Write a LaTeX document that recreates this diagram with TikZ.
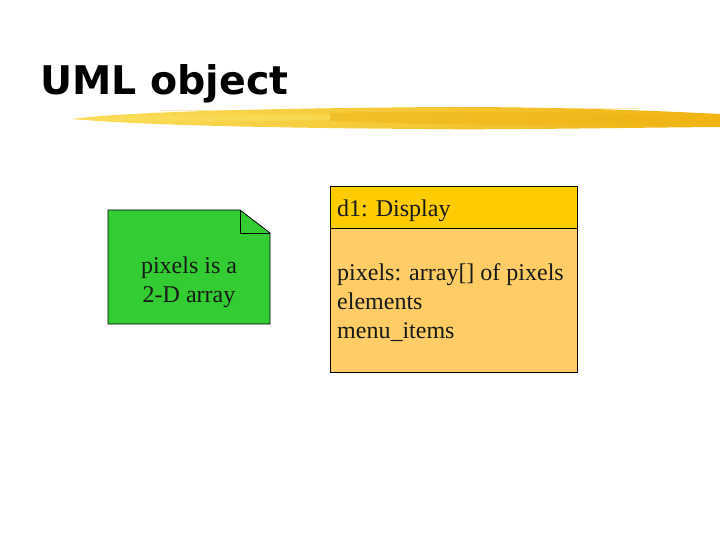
\documentclass[tikz,border=0pt]{standalone}
\usepackage{fontspec}
\setmainfont{Liberation Serif}
\newfontfamily\titlefont{DejaVu Sans}
\usetikzlibrary{positioning}
\definecolor{notegreen}{RGB}{51, 204, 51}
\definecolor{headgold}{RGB}{255, 204, 0}
\definecolor{bodyorange}{RGB}{255, 204, 102}
\definecolor{brushlight}{RGB}{250, 222, 90}
\definecolor{brushdark}{RGB}{240, 180, 20}

\begin{document}
\begin{tikzpicture}[x=1pt, y=-1pt,
    plain/.style={font=\fontsize{24}{29}\selectfont, inner sep=0pt, text=black!90},
    box/.style={draw=black, line width=0.8pt}]
\useasboundingbox (0,0) rectangle (720,540);

% Title
\node[anchor=base west, inner sep=0pt, font=\titlefont\bfseries\fontsize{39.5}{48}\selectfont] (title) at (40,95) {UML object};

% Brush stroke under the title
\shade[left color=brushlight, right color=brushdark]
    (72,119) .. controls (130,111) and (300,108) .. (450,107)
    .. controls (580,107) and (680,112) .. (720,114)
    -- (720,127) .. controls (600,128) and (500,130) .. (420,129)
    .. controls (300,128) and (150,126) .. cycle;
\fill[brushdark, opacity=0.5] (330,113) .. controls (450,110) and (600,112) .. (715,117)
    -- (715,124) .. controls (600,126) and (450,126) .. (330,121) -- cycle;
\fill[brushlight, opacity=0.6] (90,119) .. controls (180,115) and (260,114) .. (330,115)
    -- (330,120) .. controls (250,121) and (170,121) .. cycle;
% streaks
\foreach \y/\a/\b in {111/160/260, 112/300/420, 124/200/330, 126/460/600, 109/520/640}
    \draw[brushdark!80, opacity=0.35, line width=1pt] (\a,\y) -- (\b,\y);

% Note
\draw[box, fill=notegreen] (108,210) -- (240,210) -- (270,233) -- (270,324) -- (108,324) -- cycle;
\draw[box] (240,210) -- (240,233) -- (270,233);
\node[plain, anchor=base] (note1) at (189,273) {pixels is a};
\node[plain, anchor=base] (note2) at (189,302) {2-D array};

% Object box
\draw[box, fill=bodyorange] (330,186) rectangle (577,372);
\draw[box, fill=headgold] (330,186) rectangle (577,228);
\node[plain, anchor=base west] (objname) at (337,216) {d1: Display};
\node[plain, anchor=base west] (attr1) at (337,280) {pixels: array[] of pixels};
\node[plain, anchor=base west] (attr2) at (337,309) {elements};
\node[plain, anchor=base west] (attr3) at (337,338) {menu\_items};
\end{tikzpicture}
\end{document}
